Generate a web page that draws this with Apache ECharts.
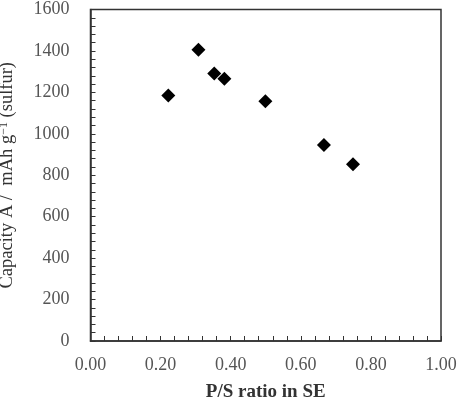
<!DOCTYPE html>
<html>
<head>
<meta charset="utf-8">
<script src="https://cdn.jsdelivr.net/npm/echarts@6/dist/echarts.min.js"></script>
<style>
  html, body { margin: 0; padding: 0; background: #fff; }
  #chart { width: 462px; height: 403px; }
</style>
</head>
<body>
<div id="chart"></div>
<script>
// P/S ratio vs capacity
const psRatio = [0.222, 0.308, 0.353, 0.382, 0.499, 0.666, 0.749];
const capacity = [1185, 1406, 1291, 1266, 1157, 946, 853];

const serif = '"Liberation Serif", "DejaVu Serif", serif';
const axisColor = '#333';
const labelColor = '#555';

const points = psRatio.map((x, i) => [x, capacity[i]]);

const myChart = echarts.init(document.getElementById('chart'));
const option = {
  animation: false,
  grid: {
    left: 90.5,
    right: 21,
    top: 9.5,
    bottom: 62,
    outerBoundsMode: 'none',
    show: true,
    borderColor: axisColor,
    borderWidth: 1.5,
  },
  xAxis: {
    type: 'value',
    min: 0,
    max: 1,
    interval: 0.2,
    name: 'P/S ratio in SE',
    nameLocation: 'middle',
    nameGap: 42,
    nameTextStyle: { fontFamily: serif, fontSize: 19, fontWeight: 'bold', color: '#333' },
    axisLine: { lineStyle: { color: axisColor, width: 1.5 } },
    axisTick: { inside: true, length: 5, lineStyle: { color: axisColor } },
    minorTick: { show: true, splitNumber: 5, length: 5, lineStyle: { color: axisColor } },
    splitLine: { show: false },
    axisLabel: {
      fontFamily: serif,
      fontSize: 18,
      color: labelColor,
      margin: 15,
      formatter: (v) => v.toFixed(2),
    },
  },
  yAxis: {
    type: 'value',
    min: 0,
    max: 1600,
    interval: 200,
    name: 'Capacity A /  mAh g{sup|−1} (sulfur)',
    nameLocation: 'middle',
    nameGap: 73,
    nameTextStyle: {
      fontFamily: serif,
      fontSize: 18.5,
      color: '#333',
      rich: {
        sup: { fontFamily: serif, fontSize: 12, color: '#333', verticalAlign: 'top', padding: [0, 0, 8, 0] },
      },
    },
    axisLine: { lineStyle: { color: axisColor, width: 1.5 } },
    axisTick: { inside: true, length: 5, lineStyle: { color: axisColor } },
    minorTick: { show: true, splitNumber: 5, length: 5, lineStyle: { color: axisColor } },
    splitLine: { show: false },
    axisLabel: {
      fontFamily: serif,
      fontSize: 18,
      color: labelColor,
      margin: 21,
      formatter: (v) => String(v),
    },
  },
  series: [
    {
      type: 'scatter',
      data: points,
      symbol: 'diamond',
      symbolSize: [14, 14],
      itemStyle: { color: '#000', opacity: 1 },
    },
  ],
};

option && myChart.setOption(option);
</script>
</body>
</html>
